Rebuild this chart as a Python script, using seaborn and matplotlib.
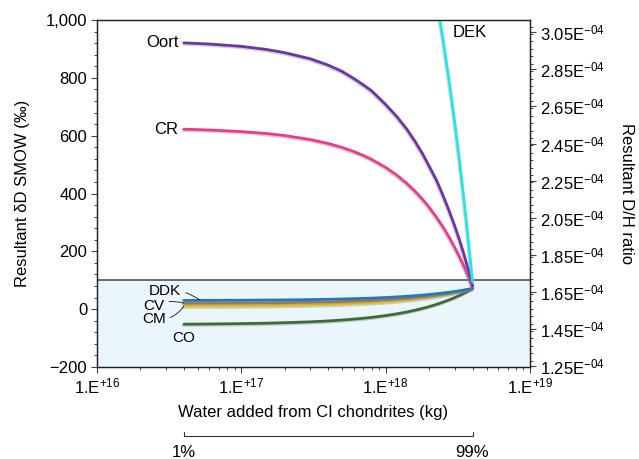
import matplotlib
matplotlib.use("Agg")
import matplotlib.pyplot as plt
import matplotlib.patheffects as pe
import matplotlib.ticker as mticker
import matplotlib.transforms as mtransforms
import seaborn as sns
import numpy as np

# water added from CI chondrites (kg), from 1% to 99% of the total
water_kg = [4e16, 6e16, 1e17, 1.5e17, 2e17, 3e17, 4e17, 5e17, 6e17, 7e17, 8e17,
            1e18, 1.2e18, 1.4e18, 1.6e18, 1.8e18, 2e18, 2.25e18, 2.5e18, 2.75e18,
            3e18, 3.25e18, 3.5e18, 3.75e18, 4e18]

# resultant dD SMOW (permil) for each mixing end member
oort = [921, 917, 909, 898, 887, 866, 844, 822, 798, 776, 755, 708, 665, 623, 580,
        538, 495, 446, 393, 341, 290, 239, 187, 134, 80]
cr = [622.5, 619.7, 614.2, 607.4, 600.5, 586.7, 573.0, 559.2, 545.4, 531.7, 517.9,
      490.4, 462.9, 435.3, 407.8, 380.3, 352.8, 318.3, 283.9, 249.5, 215.1, 180.7,
      146.3, 111.9, 77.5]
dek = [2307.6, 2296.5, 2274.1, 2246.2, 2218.2, 2162.3, 2106.4, 2050.6, 1994.7, 1938.8,
       1882.9, 1771.1, 1659.3, 1547.5, 1435.7, 1324.0, 1212.2, 1072.5, 932.7, 793.0,
       653.3, 513.5, 373.8, 234.1, 94.4]
ddk = [30.4, 30.6, 31.0, 31.6, 32.1, 33.1, 34.2, 35.2, 36.2, 37.3, 38.3, 40.4, 42.5,
       44.6, 46.6, 48.7, 50.8, 53.4, 56.0, 58.6, 61.2, 63.8, 66.4, 69.0, 71.6]
cv = [20.5, 20.8, 21.3, 21.9, 22.6, 23.9, 25.1, 26.4, 27.7, 29.0, 30.3, 32.9, 35.4,
      38.0, 40.6, 43.2, 45.7, 49.0, 52.2, 55.4, 58.6, 61.8, 65.0, 68.3, 71.5]
cm = [10.6, 10.9, 11.5, 12.3, 13.1, 14.6, 16.1, 17.7, 19.2, 20.7, 22.3, 25.3, 28.4,
      31.5, 34.6, 37.6, 40.7, 44.5, 48.4, 52.2, 56.0, 59.9, 63.7, 67.5, 71.4]
co = [-51.8, -51.1, -49.9, -48.4, -46.8, -43.7, -40.6, -37.5, -34.4, -31.3, -28.3,
      -22.1, -15.9, -9.7, -3.5, 2.7, 8.9, 16.6, 24.4, 32.1, 39.8, 47.6, 55.3, 63.0, 70.8]

earth_range = [-200, 100]
vsmow_dh = 155.76e-6
dh_ticks = [1.25e-4, 1.45e-4, 1.65e-4, 1.85e-4, 2.05e-4, 2.25e-4, 2.45e-4, 2.65e-4,
            2.85e-4, 3.05e-4]
x_ticks = [1e16, 1e17, 1e18, 1e19]

sns.set_style("ticks")
plt.rcParams["font.family"] = ["Liberation Sans", "DejaVu Sans"]
plt.rcParams["mathtext.fontset"] = "custom"
plt.rcParams["mathtext.rm"] = "Liberation Sans"
plt.rcParams["mathtext.it"] = "Liberation Sans"
plt.rcParams["mathtext.bf"] = "Liberation Sans"
plt.rcParams["font.size"] = 12
plt.rcParams["text.color"] = "black"
plt.rcParams["axes.labelcolor"] = "black"

fig = plt.figure(figsize=(6.39, 4.59), dpi=100)
ax = fig.add_axes([0.1518, 0.2004, 0.6776, 0.756])

ax.axhspan(earth_range[0], earth_range[1], color="#eaf6fc", zorder=0, lw=0)
ax.axhline(earth_range[1], color="#444444", lw=1.1, zorder=1)

shadow = [pe.SimpleLineShadow(offset=(-0.6, -1.0), shadow_color="#808080", alpha=0.35),
          pe.Normal()]
series = [(co, "#3c6b36"), (cm, "#eec51e"), (cv, "#a27852"), (ddk, "#2079bd"),
          (cr, "#ee3a8e"), (oort, "#6f33a6"), (dek, "#22e6ee")]
for vals, col in series:
    sns.lineplot(x=water_kg, y=vals, ax=ax, color=col, lw=2.0,
                 path_effects=shadow, zorder=3)

ax.set_xscale("log")
ax.set_xlim(1e16, 1e19)
ax.set_ylim(-200, 1000)
ax.set_xticks(x_ticks)
ax.set_xticklabels([r"1.E$^{+%d}$" % int(np.log10(v)) for v in x_ticks])
ax.xaxis.set_minor_locator(mticker.LogLocator(base=10, subs=np.arange(2, 10)))
ax.xaxis.set_minor_formatter(mticker.NullFormatter())
ax.yaxis.set_major_locator(mticker.MultipleLocator(200))
ax.yaxis.set_minor_locator(mticker.MultipleLocator(40))
ax.yaxis.set_major_formatter(mticker.FuncFormatter(
    lambda v, p: "{:,}".format(int(v)).replace("-", "\u2212")))
ax.tick_params(which="major", length=4, width=0.8, color="#444444",
               labelcolor="black", labelsize=12, pad=3)
ax.tick_params(which="minor", length=2.5, width=0.7, color="#444444")
for s in ax.spines.values():
    s.set_linewidth(0.9)
    s.set_color("#222222")

ax.set_xlabel("Water added from CI chondrites (kg)", fontsize=12, labelpad=6)
ax.set_ylabel("Resultant \u03b4D SMOW (\u2030)", fontsize=12)
ax.yaxis.set_label_coords(-0.155, 0.5)

# right axis: D/H ratio
ax2 = ax.twinx()
ax2.set_ylim((earth_range[0] / 1000 + 1) * vsmow_dh, (1000 / 1000 + 1) * vsmow_dh)
ax2.set_yticks(dh_ticks)
ax2.set_yticklabels([r"%.2fE$^{-04}$" % (v * 1e4) for v in dh_ticks])
ax2.yaxis.set_minor_locator(mticker.MultipleLocator(0.04e-4))
ax2.tick_params(which="major", length=4, width=0.8, color="#444444",
                labelcolor="black", labelsize=12, pad=3)
ax2.tick_params(which="minor", length=2.5, width=0.7, color="#444444")
for s in ax2.spines.values():
    s.set_linewidth(0.9)
    s.set_color("#222222")
ax2.set_ylabel("Resultant D/H ratio", fontsize=12, rotation=270, va="bottom")
ax2.yaxis.set_label_coords(1.205, 0.5)

# curve labels
ax.annotate("Oort", xy=(water_kg[0], oort[0]), xytext=(-4, 0), textcoords="offset points",
            ha="right", va="center", fontsize=12)
ax.annotate("CR", xy=(water_kg[0], cr[0]), xytext=(-4, 0), textcoords="offset points",
            ha="right", va="center", fontsize=12)
ax.text(0.822, 0.965, "DEK", transform=ax.transAxes, ha="left", va="center", fontsize=12)
lead = dict(arrowstyle="-", color="#333333", lw=0.7, shrinkA=1, shrinkB=0)
ax.annotate("DDK", xy=(5.2e16, ddk[0]), xytext=(2.96e16, 63), ha="center", va="center",
            fontsize=11, arrowprops=dict(lead, connectionstyle="arc3,rad=-0.2"))
ax.annotate("CV", xy=(water_kg[0], cv[0]), xytext=(2.48e16, 11), ha="center", va="center",
            fontsize=11, arrowprops=dict(lead, connectionstyle="arc3,rad=-0.2"))
ax.annotate("CM", xy=(water_kg[0], cm[0]), xytext=(2.48e16, -35), ha="center", va="center",
            fontsize=11, arrowprops=dict(lead, connectionstyle="arc3,rad=0.3"))
ax.text(4.0e16, -99, "CO", ha="center", va="center", fontsize=11)

# bracket showing 1% .. 99%
tr = mtransforms.blended_transform_factory(ax.transData, ax.transAxes)
ax.plot([water_kg[0], water_kg[0], water_kg[-1], water_kg[-1]],
        [-0.187, -0.199, -0.199, -0.187], transform=tr, clip_on=False,
        color="#333333", lw=0.8)
ax.text(water_kg[0], -0.245, "1%", transform=tr, ha="center", va="center", fontsize=12)
ax.text(water_kg[-1], -0.245, "99%", transform=tr, ha="center", va="center", fontsize=12)

fig.savefig("out.png", dpi=100)
